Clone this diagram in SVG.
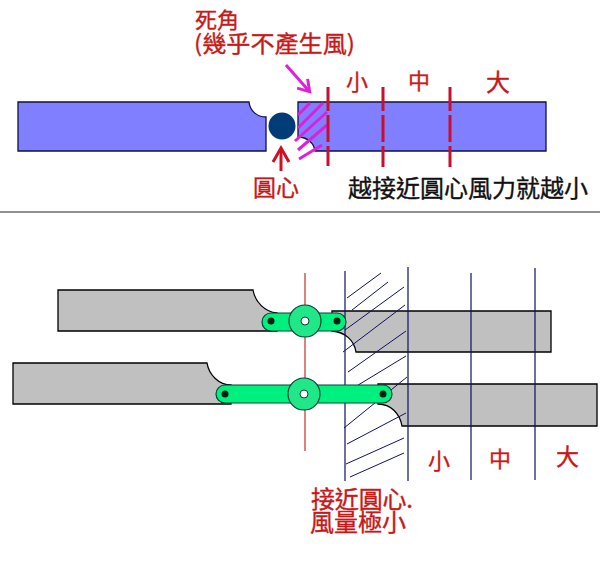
<svg xmlns="http://www.w3.org/2000/svg" width="600" height="580" viewBox="0 0 600 580">
<defs>
<marker id="mag" markerUnits="userSpaceOnUse" markerWidth="16" markerHeight="16" refX="12" refY="8" orient="auto"><path d="M2 1L13 8L2 15" fill="none" stroke="#e020d8" stroke-width="3"/></marker>
<marker id="red" markerUnits="userSpaceOnUse" markerWidth="20" markerHeight="20" refX="15" refY="10" orient="auto"><path d="M2 2L16 10L2 18" fill="none" stroke="#d01020" stroke-width="3"/></marker>
</defs>
<style>
text{font-family:"Noto Sans CJK TC","Liberation Sans",sans-serif}
.r{fill:#c81818;stroke:#c81818;stroke-width:.35}
.k{fill:#111;stroke:#111;stroke-width:.35}
.blue{fill:#7f7fff;stroke:#101040;stroke-width:1.3}
.gray{fill:#c0c0c0;stroke:#000;stroke-width:1.3}
.dash{stroke:#c8102e;stroke-width:3;stroke-dasharray:24 4 27 4;fill:none}
.hm{stroke:#e020d8;stroke-width:3;fill:none}
.hb{stroke:#10106a;stroke-width:1;fill:none}
.vb{stroke:#10106a;stroke-width:1.2;fill:none}
.link{fill:#00f080;stroke:#043;stroke-width:1.2}
.hub{fill:#20e888;stroke:#043;stroke-width:1.2}
.hole{fill:#fff;stroke:#043;stroke-width:1}
.pin{fill:#062010}
</style>
<rect width="600" height="580" fill="#fff"/>
<path id="divider" d="M0 212H600" stroke="#222" stroke-width="1"/>
<g id="top-blade-left"><path class="blue" d="M18 102H249C250 111 257 117 266 117V151H18Z"/></g>
<g id="top-blade-right"><path class="blue" d="M298 102H546V151H315C314 143 307 137 298 137Z"/></g>
<g id="top-hatch">
<path class="hm" d="M298 115L310 103M298 128L323 103M295 141L327 112M298 150L327 125M299 159L322 145"/>
</g>
<g id="top-hub"><circle cx="282" cy="126" r="13.500" fill="#003c78"/></g>
<g id="top-marks">
<path class="dash" d="M328 87V166M383 87V167M450 87V167"/>
</g>
<g id="top-arrows">
<path d="M286 65L309 91" stroke="#e020d8" stroke-width="3" fill="none" marker-end="url(#mag)"/>
<path d="M281 171V149" stroke="#d01020" stroke-width="3" fill="none" marker-end="url(#red)"/>
</g>
<g id="top-labels">
<text class="r" x="195" y="28" font-size="22">死角</text>
<text class="r" x="194" y="52" font-size="23" textLength="161" lengthAdjust="spacingAndGlyphs">(幾乎不產生風)</text>
<text class="r" x="346" y="90" font-size="22">小</text>
<text class="r" x="408" y="89" font-size="22">中</text>
<text class="r" x="486" y="91" font-size="24">大</text>
<text class="r" x="253" y="196" font-size="23">圓心</text>
<text class="k" x="348" y="197" font-size="24">越接近圓心風力就越小</text>
</g>
<g id="blade-a-left"><path class="gray" d="M58 290H253C255 302 265 312 277 313V331H58Z"/></g>
<g id="blade-a-right"><path class="gray" d="M332 311H551V352H356C354 340 345 332 332 331Z"/></g>
<g id="blade-b-left"><path class="gray" d="M13 363H207C209 375 219 385 231 385V404H13Z"/></g>
<g id="blade-b-right"><path class="gray" d="M378 384H597V426H402C400 414 391 404 378 404Z"/></g>
<g id="bottom-hatch"><path class="hb" d="M347 298L381 273M352 310L388 282M345 330L404 287M343 352L405 305M348 372L406 331M345 393L406 356M344 428L407 377M347 444L406 413M346 464L404 438M350 477L404 453"/></g>
<g id="bottom-lines">
<path d="M305 273V451" stroke="#c03030" stroke-width="1.200" fill="none"/>
<path class="vb" d="M345 271V481M408 267V481M471 273V480M535 268V480"/>
</g>
<g id="link-a">
<rect class="link" x="262" y="313" width="84" height="18" rx="9"/>
<circle class="hub" cx="305" cy="321" r="16"/>
<circle class="hole" cx="305" cy="321" r="4"/>
<circle class="pin" cx="271" cy="321" r="3.500"/><circle class="pin" cx="337" cy="321" r="3.500"/>
</g>
<g id="link-b">
<rect class="link" x="216" y="385" width="176" height="18" rx="9"/>
<circle class="hub" cx="304" cy="394" r="16"/>
<circle class="hole" cx="304" cy="394" r="4"/>
<circle class="pin" cx="225" cy="394" r="3.500"/><circle class="pin" cx="383" cy="394" r="3.500"/>
</g>
<g id="bottom-labels">
<text class="r" x="428" y="469" font-size="22">小</text>
<text class="r" x="489" y="467" font-size="22">中</text>
<text class="r" x="556" y="465" font-size="23">大</text>
<text class="r" x="311" y="508" font-size="24" textLength="102">接近圓心.</text>
<text class="r" x="310" y="531" font-size="24">風量極小</text>
</g>
</svg>
